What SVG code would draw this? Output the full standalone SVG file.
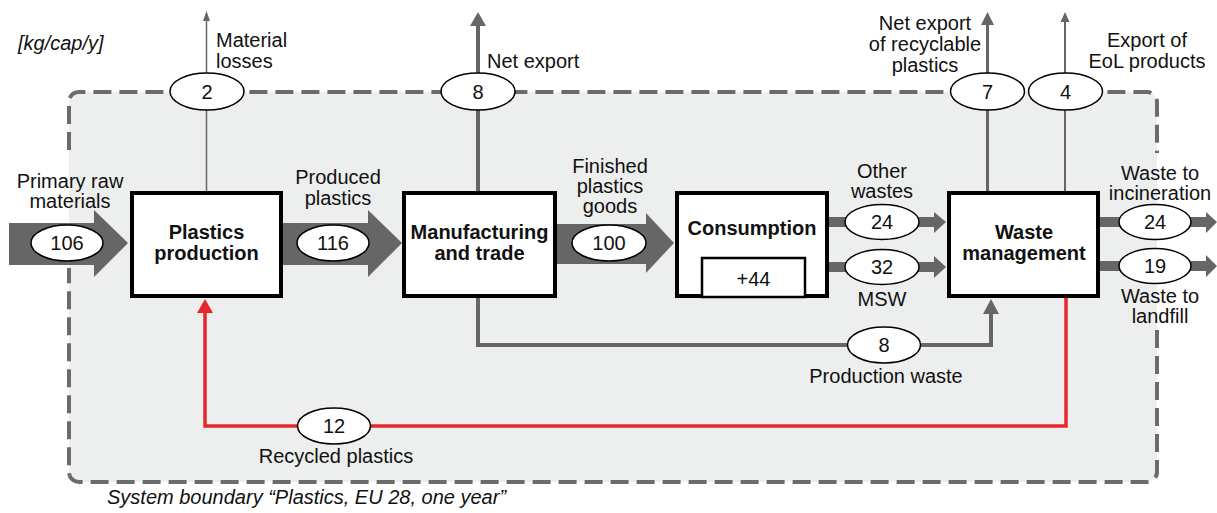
<svg xmlns="http://www.w3.org/2000/svg" width="1217" height="513" viewBox="0 0 1217 513">
<style>
text{font-family:"Liberation Sans",Arial,sans-serif;font-size:20px;fill:#111}
.c{text-anchor:middle}
.b{font-weight:bold}
.i{font-style:italic}
.box{fill:#fff;stroke:#000;stroke-width:4}
.ell{fill:#fff;stroke:#000;stroke-width:1.5}
.flow{fill:#666}
.ln{fill:none;stroke:#666}
.bnd{fill:none;stroke:#6b6b6b;stroke-width:4;stroke-dasharray:18 8}
</style>
<rect x="69" y="92" width="1088" height="390" rx="10" fill="#edeeee"/>
<g id="boundary">
<path class="bnd" d="M69,150 V102 A10,10 0 0 1 79,92 H1147 A10,10 0 0 1 1157,102 V153"/>
<path class="bnd" d="M1157,330 V472 A10,10 0 0 1 1147,482 H79 A10,10 0 0 1 69,472 V268"/>
</g>
<g id="connectors">
<polygon class="flow" points="9,223 94,223 94,210 128,243 94,277 94,265 9,265"/>
<polygon class="flow" points="283,223 368,223 368,210 402,243 368,277 368,265 283,265"/>
<polygon class="flow" points="557,224 646,224 646,213 674,243 646,273 646,264 557,264"/>
<polygon class="flow" points="829,217 934,217 934,212 946,222 934,233 934,227 829,227"/>
<polygon class="flow" points="829,262 934,262 934,256 946,267 934,278 934,272 829,272"/>
<polygon class="flow" points="1100,217 1206,217 1206,212 1217,222 1206,233 1206,227 1100,227"/>
<polygon class="flow" points="1100,261 1206,261 1206,255 1217,266 1206,277 1206,271 1100,271"/>
<path class="ln" stroke-width="1.5" d="M206.5,191 V20"/>
<polygon class="flow" points="203,21 206.5,11 210,21"/>
<path class="ln" stroke-width="4" d="M478,191 V25"/>
<polygon class="flow" points="470,26 478,12 486,26"/>
<path class="ln" stroke-width="3" d="M987.5,191 V24"/>
<polygon class="flow" points="981,25 987.5,12 994,25"/>
<path class="ln" stroke-width="2" d="M1065,191 V21"/>
<polygon class="flow" points="1060.5,22 1065,12 1069.5,22"/>
<path class="ln" stroke-width="4" d="M478,298 V345 H991 V313"/>
<polygon class="flow" points="983,314 991,299 999,314"/>
<path fill="none" stroke="#e8262d" stroke-width="3.5" d="M1066,298 V426 H205 V312"/>
<polygon fill="#e8262d" points="197,313 205,299 213,313"/>
</g>
<g id="plastics-production">
<rect class="box" x="132" y="193" width="149" height="103"/>
<text class="c b" x="206.5" y="239">Plastics</text>
<text class="c b" x="206.5" y="260">production</text>
</g>
<g id="manufacturing">
<rect class="box" x="404" y="193" width="151" height="103"/>
<text class="c b" x="479.5" y="239">Manufacturing</text>
<text class="c b" x="479.5" y="260">and trade</text>
</g>
<g id="consumption">
<rect class="box" x="677" y="193" width="150" height="103"/>
<text class="c b" x="752" y="235">Consumption</text>
<rect x="702" y="258" width="103" height="39" fill="#fff" stroke="#000" stroke-width="2.5"/>
<text class="c" x="753.5" y="286">+44</text>
</g>
<g id="waste-management">
<rect class="box" x="949" y="193" width="149" height="103"/>
<text class="c b" x="1024" y="239">Waste</text>
<text class="c b" x="1024" y="260">management</text>
</g>
<g id="flow-values">
<ellipse class="ell" cx="67" cy="243" rx="36" ry="18"/><text class="c" x="67" y="250">106</text>
<ellipse class="ell" cx="333" cy="243" rx="36" ry="18"/><text class="c" x="333" y="250">116</text>
<ellipse class="ell" cx="609" cy="243" rx="37" ry="18"/><text class="c" x="609" y="250">100</text>
<ellipse class="ell" cx="882" cy="222" rx="37" ry="17.5"/><text class="c" x="882" y="229">24</text>
<ellipse class="ell" cx="882" cy="267" rx="37" ry="17.5"/><text class="c" x="882" y="274">32</text>
<ellipse class="ell" cx="1155" cy="222" rx="36" ry="17.5"/><text class="c" x="1155" y="229">24</text>
<ellipse class="ell" cx="1155" cy="266" rx="36" ry="17.5"/><text class="c" x="1155" y="273">19</text>
<ellipse class="ell" cx="207" cy="91.5" rx="37" ry="18.5"/><text class="c" x="207" y="98.5">2</text>
<ellipse class="ell" cx="478" cy="91.5" rx="37" ry="18.5"/><text class="c" x="478" y="98.5">8</text>
<ellipse class="ell" cx="987.5" cy="91.5" rx="37" ry="18.5"/><text class="c" x="987.5" y="98.5">7</text>
<ellipse class="ell" cx="1065.5" cy="91.5" rx="37" ry="18.5"/><text class="c" x="1065.5" y="98.5">4</text>
<ellipse class="ell" cx="884" cy="345" rx="36.5" ry="18"/><text class="c" x="884" y="352">8</text>
<ellipse class="ell" cx="334" cy="426" rx="36.5" ry="18"/><text class="c" x="334" y="433">12</text>
</g>
<g id="labels">
<text class="i" x="18" y="50">[kg/cap/y]</text>
<text x="216" y="47">Material</text>
<text x="216" y="68">losses</text>
<text x="487" y="68">Net export</text>
<text class="c" x="925" y="30">Net export</text>
<text class="c" x="925" y="51">of recyclable</text>
<text class="c" x="925" y="72">plastics</text>
<text class="c" x="1147" y="47">Export of</text>
<text class="c" x="1147" y="68">EoL products</text>
<text class="c" x="70" y="188">Primary raw</text>
<text class="c" x="70" y="208">materials</text>
<text class="c" x="338" y="184">Produced</text>
<text class="c" x="338" y="205">plastics</text>
<text class="c" x="610" y="173">Finished</text>
<text class="c" x="610" y="193">plastics</text>
<text class="c" x="610" y="213">goods</text>
<text class="c" x="882" y="178">Other</text>
<text class="c" x="882" y="198">wastes</text>
<text class="c" x="882" y="306">MSW</text>
<text class="c" x="1160" y="180">Waste to</text>
<text class="c" x="1160" y="200">incineration</text>
<text class="c" x="1160" y="303">Waste to</text>
<text class="c" x="1160" y="323">landfill</text>
<text class="c" x="886" y="383">Production waste</text>
<text class="c" x="336" y="463">Recycled plastics</text>
<text class="i" x="107" y="504">System boundary “Plastics, EU 28, one year”</text>
</g>
</svg>
